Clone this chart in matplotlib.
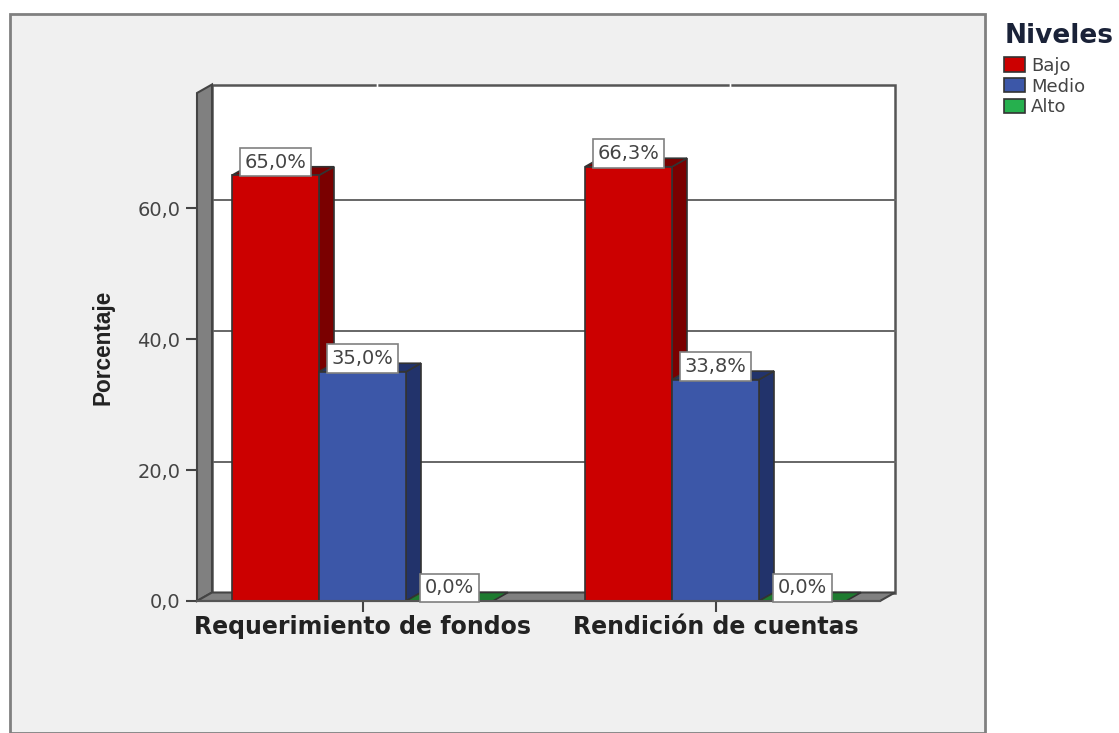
import numpy as np
import matplotlib
matplotlib.use("Agg")
import matplotlib.pyplot as plt
from matplotlib.patches import Polygon, Rectangle, Patch

categories = ["Requerimiento de fondos", "Rendición de cuentas"]
levels = ["Bajo", "Medio", "Alto"]
bajo = [65.0, 66.3]
medio = [35.0, 33.8]
alto = [0.0, 0.0]
bajo_txt = ["65,0%", "66,3%"]
medio_txt = ["35,0%", "33,8%"]
alto_txt = ["0,0%", "0,0%"]
yticks = [0, 20, 40, 60]
ytick_txt = ["0,0", "20,0", "40,0", "60,0"]

front_col = ["#CC0000", "#3C57A8", "#1E7B30"]
side_col = ["#7A0000", "#22336B", "#0F4F1C"]
legend_col = ["#CC0000", "#3C57A8", "#26B04E"]
edge = "#333333"
W, H = 1119, 733

fig = plt.figure(figsize=(W/100, H/100), dpi=100, facecolor="white")
fig.patches.append(Rectangle((10/W, 0), 975/W, 1-14/H, transform=fig.transFigure,
                             fc="#F0F0F0", ec="#808080", lw=2, zorder=-1))

# axes box is the front plane of the fake 3d chart
ax = fig.add_axes([197/W, 1-601/H, 683/W, 508/H])
ax.patch.set_visible(False)
for s in ax.spines.values():
    s.set_visible(False)
px_x = 353.0
px_y = 6.55
ax.set_xlim(-165.5/px_x, 517.5/px_x)
ax.set_ylim(0, 508/px_y)
dx = 15/px_x
dy = 8.5/px_y
x0, x1 = ax.get_xlim()
y1 = ax.get_ylim()[1]

def poly(pts, fc, z, ec=edge, lw=1.2):
    ax.add_patch(Polygon(pts, closed=True, fc=fc, ec=ec, lw=lw, zorder=z, clip_on=False))

# back wall, side wall, floor
poly([(x0+dx, dy), (x1+dx, dy), (x1+dx, y1+dy), (x0+dx, y1+dy)], "white", 1, ec="#555555", lw=1.8)
for t in yticks[1:]:
    ax.plot([x0+dx, x1+dx], [t+dy, t+dy], color="#666666", lw=1.4, zorder=2, clip_on=False)
poly([(x0, 0), (x0+dx, dy), (x0+dx, y1+dy), (x0, y1)], "#808080", 3, ec="#444444", lw=1.5)
poly([(x0, 0), (x1, 0), (x1+dx, dy), (x0+dx, dy)], "#808080", 3, ec="#444444", lw=1.5)
for c in [0.04, 1.04]:
    ax.plot([c, c], [y1+dy, y1+dy], marker="|", ms=3, color="white", zorder=4, clip_on=False)

w = 87/px_x
x = np.arange(len(categories))
series = [bajo, medio, alto]
texts = [bajo_txt, medio_txt, alto_txt]
for i, vals in enumerate(series):
    pos = x + (i-1)*w
    for p, v in zip(pos, vals):
        l, r = p-w/2, p+w/2
        z = 5 + i
        if v > 0:
            poly([(r, 0), (r+dx, dy), (r+dx, v+dy), (r, v)], side_col[i], z)
        poly([(l, v), (r, v), (r+dx, v+dy), (l+dx, v+dy)], side_col[i] if i < 2 else front_col[i], z)
    if i < 2:
        ax.bar(pos, vals, width=w, color=front_col[i], edgecolor=edge, lw=1.2, zorder=5+i)
ax.plot([x0, x1], [0, 0], color="#555555", lw=1.5, zorder=9, clip_on=False)

for i, vals in enumerate(series):
    pos = x + (i-1)*w
    for p, v, s in zip(pos, vals, texts[i]):
        ax.text(p, v+0.55, s, ha="center", va="bottom", fontsize=14, color="#444444",
                zorder=10, family="DejaVu Sans",
                bbox=dict(boxstyle="square,pad=0.24", fc="white", ec="#808080", lw=1.2))

ax.set_xticks(x)
ax.set_xticklabels(categories, fontsize=17, fontweight="bold", color="#222222", family="DejaVu Sans")
ax.set_yticks(yticks)
ax.set_yticklabels(ytick_txt, fontsize=14, color="#444444", family="DejaVu Sans")
ax.tick_params(axis="x", length=8, width=1.5, color="#444444", pad=2)
ax.tick_params(axis="y", length=8, width=1.5, color="#444444", pad=4)
ax.set_ylabel("Porcentaje", fontsize=16.3, fontweight="bold", color="#222222",
              family="Liberation Sans")
ax.yaxis.set_label_coords((115-197)/683, (601-347)/508)

fig.text(1005/W, 1-36/H, "Niveles", fontsize=19, fontweight="bold", color="#1a2238",
         family="DejaVu Sans", va="center")
handles = [Patch(fc=c, ec=edge, lw=1.2) for c in legend_col]
leg = fig.legend(handles, levels, loc="upper left",
                 bbox_to_anchor=(1002/W, 1-55/H), frameon=False, fontsize=13,
                 handlelength=1.15, handleheight=0.85, handletextpad=0.35,
                 labelspacing=0.15, borderaxespad=0, borderpad=0.1,
                 labelcolor="#444444")

fig.savefig("out.png", dpi=100)
